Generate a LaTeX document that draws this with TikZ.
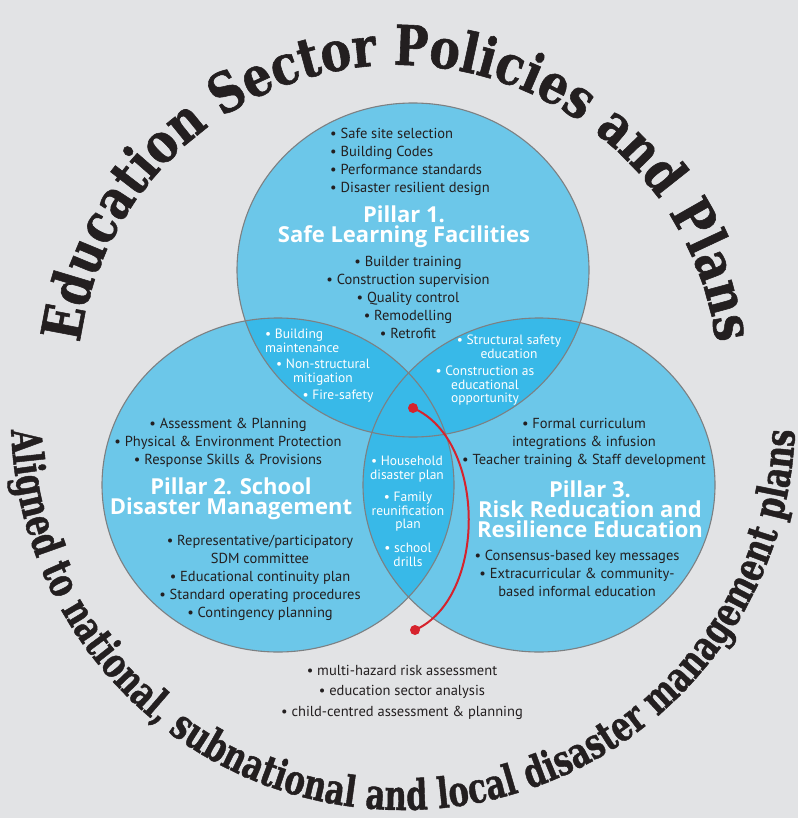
\documentclass[tikz,border=0pt]{standalone}
\usepackage{fontspec}
\setmainfont{PT Sans}
\newfontfamily\titlefont{Open Sans}
\newfontfamily\slabfont{DejaVu Serif}[FakeStretch=0.83, FakeBold=1]
\newfontfamily\slabnarrow{DejaVu Serif}[FakeStretch=0.73, FakeBold=1]
\usepackage{tikz}
\usetikzlibrary{decorations.text}

\definecolor{bggray}{RGB}{226,227,229}
\definecolor{pillarblue}{RGB}{108,199,233}
\definecolor{pairblue}{RGB}{56,185,232}
\definecolor{coreblue}{RGB}{24,172,230}
\definecolor{rimgray}{RGB}{125,128,130}
\definecolor{inkdark}{RGB}{35,31,32}
\definecolor{pinred}{RGB}{214,35,45}

\tikzset{
    venn/.style={x radius=176, y radius=167},
    item/.style={font=\fontsize{14.5}{18}\selectfont, text=inkdark, align=center, inner sep=0pt},
    pillartitle/.style={font=\titlefont\bfseries\fontsize{22}{20}\selectfont, text=white, align=center, inner sep=0pt},
    overlap/.style={font=\fontsize{13.5}{13.5}\selectfont, text=white, align=center, inner sep=0pt},
    dot/.style={circle, fill=pinred, inner sep=0pt, minimum size=10pt},
}

\begin{document}
\begin{tikzpicture}[x=1pt, y=-1pt]
    \useasboundingbox (0,0) rectangle (798,818);
    \fill[bggray] (0,0) rectangle (798,818);

    % Venn circles
    \coordinate (c1) at (413,270);
    \coordinate (c2) at (278,485);
    \coordinate (c3) at (539,485);
    \foreach \c in {c1,c2,c3}
        \fill[pillarblue] (\c) ellipse [venn];

    % Overlaps
    \begin{scope}
        \clip (c1) ellipse [venn];
        \fill[pairblue] (c2) ellipse [venn];
        \fill[pairblue] (c3) ellipse [venn];
        \clip (c2) ellipse [venn];
        \fill[coreblue] (c3) ellipse [venn];
    \end{scope}
    \begin{scope}
        \clip (c2) ellipse [venn];
        \fill[pairblue] (c3) ellipse [venn];
    \end{scope}

    \foreach \c in {c1,c2,c3}
        \draw[rimgray, line width=1.1pt] (\c) ellipse [venn];

    % Pillar 1
    \node[item, align=left, anchor=west] (p1plan) at (330,162) {• Safe site selection\\• Building Codes\\• Performance standards\\• Disaster resilient design};
    \node[pillartitle] (p1name) at (404,227) {Pillar 1.\\Safe Learning Facilities};
    \node[item] (p1build) at (408,297) {• Builder training\\• Construction supervision\\• Quality control\\• Remodelling\\• Retrofit};

    % Pillar 2
    \node[item] (p2plan) at (228,443) {• Assessment \& Planning\\• Physical \& Environment Protection\\• Response Skills \& Provisions};
    \node[pillartitle] (p2name) at (231,499) {Pillar 2. School\\Disaster Management};
    \node[item] (p2ops) at (260,578) {• Representative/participatory\\SDM committee\\• Educational continuity plan\\• Standard operating procedures\\• Contingency planning};

    % Pillar 3
    \node[item] (p3curr) at (584,443) {• Formal curriculum\\integrations \& infusion\\• Teacher training \& Staff development};
    \node[pillartitle] (p3name) at (590,509) {Pillar 3.\\Risk Reducation and\\Resilience Education};
    \node[item] (p3msg) at (577,573) {• Consensus-based key messages\\• Extracurricular \& community-\\based informal education};

    % Overlaps text
    \node[overlap, align=left, anchor=west] (o12a) at (265,341) {• Building\\maintenance};
    \node[overlap] (o12b) at (323,372) {• Non-structural\\mitigation};
    \node[overlap] (o12c) at (338,396) {• Fire-safety};
    \node[overlap] (o13a) at (509,347) {• Structural safety\\education};
    \node[overlap] (o13b) at (485,386) {• Construction as\\educational\\opportunity};
    \node[overlap] (o23a) at (407,469) {• Household\\disaster plan};
    \node[overlap] (o23b) at (408,512) {• Family\\reunification\\plan};
    \node[overlap] (o23c) at (408,555) {• school\\drills};

    % Base
    \node[item, font=\fontsize{14.5}{20.5}\selectfont] (base) at (402,692) {• multi-hazard risk assessment\\• education sector analysis\\• child-centred assessment \& planning};

    % Red link
    \node[dot] (rtop) at (413,408) {};
    \node[dot] (rbot) at (415,630) {};
    \draw[pinred, line width=2pt] (rtop.center) .. controls (487,440) and (487,598) .. (rbot.center);

    % Curved titles
    \path[decorate, decoration={text along path, text align=center, text color=inkdark,
        text={|\slabfont\bfseries\fontsize{55}{55}\selectfont|Education Sector Policies and Plans}}]
        (398,386) ++(184:321) arc [start angle=184, end angle=356, radius=321];
    \path[decorate, decoration={text along path, text align=center, text color=inkdark,
        text={|\slabnarrow\bfseries\fontsize{42}{42}\selectfont|Aligned to national, subnational and local disaster management plans}}]
        (403,418) ++(182:392) arc [start angle=182, end angle=-2, radius=392];
\end{tikzpicture}
\end{document}
